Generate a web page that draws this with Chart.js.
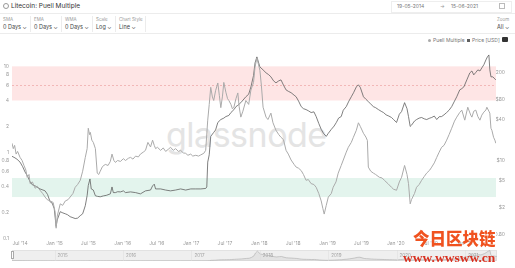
<!DOCTYPE html>
<html>
<head>
<meta charset="utf-8">
<script src="https://cdn.jsdelivr.net/npm/chart.js@4.4.0/dist/chart.umd.min.js"></script>
<style>
  html, body { margin: 0; padding: 0; background: #fff; }
  body { width: 515px; height: 268px; position: relative; overflow: hidden; font-family: Inter, "Noto Sans", sans-serif; color: #444; }
  .abs { position: absolute; white-space: nowrap; line-height: 1; }
  .lbl { font-size: 4.5px; color: #9a9a9a; }
  .val { font-size: 5.5px; color: #444; }
  .sep { position: absolute; top: 16px; width: 1px; height: 16px; background: #ececec; }
  .hr { position: absolute; left: 0; width: 515px; height: 1px; background: #ececec; }
  #main { position: absolute; left: 0; top: 44px; }
  #nav { position: absolute; left: 12px; top: 250px; }
  #wm { position: absolute; left: 166px; top: 118px; font-size: 34px; color: #e4e4e4; font-family: Inter, sans-serif; letter-spacing: -0.5px; }
</style>
</head>
<body>
<div id="wm" class="abs">glassnode</div>

<!-- header -->
<div class="abs" style="left:3px;top:3px;width:4px;height:4px;border:1px solid #999;border-radius:50%;"></div>
<div class="abs" style="left:11px;top:3px;font-size:6.5px;color:#333;">Litecoin: Puell Multiple</div>
<div class="abs" style="left:391px;top:1px;width:119px;height:10px;border:1px solid #eee;"></div>
<div class="abs" style="left:397px;top:4px;font-size:5px;color:#777;">19-05-2014</div>
<div class="abs" style="left:440px;top:4px;font-size:5px;color:#999;">→</div>
<div class="abs" style="left:451px;top:4px;font-size:5px;color:#777;">15-06-2021</div>
<div class="abs" style="left:499px;top:3px;width:4px;height:4px;border:1px solid #bbb;"></div>
<div class="hr" style="top:13px;"></div>

<div class="abs lbl" style="left:3px;top:18px;">SMA</div>
<div class="abs val" style="left:3px;top:25px;">0 Days ⌄</div>
<div class="sep" style="left:30px;"></div>
<div class="abs lbl" style="left:34px;top:18px;">EMA</div>
<div class="abs val" style="left:34px;top:25px;">0 Days ⌄</div>
<div class="sep" style="left:61px;"></div>
<div class="abs lbl" style="left:65px;top:18px;">WMA</div>
<div class="abs val" style="left:65px;top:25px;">0 Days ⌄</div>
<div class="sep" style="left:92px;"></div>
<div class="abs lbl" style="left:96px;top:18px;">Scale</div>
<div class="abs val" style="left:96px;top:25px;">Log ⌄</div>
<div class="sep" style="left:115px;"></div>
<div class="abs lbl" style="left:119px;top:18px;">Chart Style</div>
<div class="abs val" style="left:119px;top:25px;">Line ⌄</div>
<div class="sep" style="left:145px;"></div>
<div class="abs lbl" style="left:497px;top:18px;">Zoom</div>
<div class="abs val" style="left:497px;top:25px;">All ⌄</div>
<div class="hr" style="top:33px;"></div>

<!-- legend -->
<div class="abs" style="left:428px;top:39px;width:3px;height:3px;border-radius:50%;background:#aaa;"></div>
<div class="abs" style="left:433px;top:38px;font-size:5px;color:#777;">Puell Multiple</div>
<div class="abs" style="left:467px;top:39px;width:3px;height:3px;background:#5f5f5f;"></div>
<div class="abs" style="left:472px;top:38px;font-size:5px;color:#777;">Price [USD]</div>
<div class="abs" style="left:502px;top:37px;width:6px;height:5px;border-radius:1px;background:#333;"></div>

<canvas id="main" width="515" height="206"></canvas>
<div class="abs" style="left:12px;top:250px;width:485px;height:11px;background:#efefef;border:1px solid #e2e2e2;box-sizing:border-box;"></div>
<canvas id="nav" width="485" height="11"></canvas>
<div class="abs" style="left:11px;top:251px;width:3px;height:8px;background:#fff;border:1px solid #aaa;box-sizing:border-box;"></div>

<div class="abs" style="left:413px;top:230px;font-size:16.5px;font-weight:900;color:#f0521f;font-family:'Noto Sans CJK SC',sans-serif;">今日区块链</div>
<div class="abs" style="left:403px;top:251px;font-size:13.5px;font-weight:bold;color:#d9301f;font-family:'Liberation Serif','DejaVu Serif',serif;">www.wwsww.cn</div>

<script>
// Litecoin Puell Multiple vs price

const xTickDates = ['2014-07-01', '2015-01-01', '2015-07-01', '2016-01-01', '2016-07-01', '2017-01-01', '2017-07-01',
  '2018-01-01', '2018-07-01', '2019-01-01', '2019-07-01', '2020-01-01', '2020-07-01', '2021-01-01'];
const xTickLabels = ["Jul '14", "Jan '15", "Jul '15", "Jan '16", "Jul '16", "Jan '17", "Jul '17",
  "Jan '18", "Jul '18", "Jan '19", "Jul '19", "Jan '20", "Jul '20", "Jan '21"];
const puellTicks = [0.1, 0.2, 0.4, 0.6, 0.8, 1, 2, 4, 6, 8, 10];
const priceTicks = [0.8, 2, 5, 10, 40, 80, 200];
const priceTickLabels = ['$0.80', '$2', '$5', '$10', '$40', '$80', '$200'];
const navYears = ['2015', '2016', '2017', '2018', '2019', '2020', '2021'];

const overheatBand = [4, 10];
const undervaluedBand = [0.3, 0.5];
const dashedLevel = 6;

const puellDates = [
  '2014-05-19', '2014-05-26', '2014-06-02', '2014-06-10', '2014-06-18', '2014-07-01', '2014-07-12', '2014-07-22',
  '2014-08-01', '2014-08-08', '2014-08-18', '2014-08-24', '2014-09-05', '2014-09-20', '2014-10-01', '2014-10-16',
  '2014-10-30', '2014-11-12', '2014-11-23', '2014-12-09', '2014-12-25', '2015-01-05', '2015-01-10', '2015-01-16',
  '2015-02-01', '2015-02-14', '2015-02-28', '2015-03-15', '2015-03-26', '2015-04-10', '2015-04-22', '2015-05-05',
  '2015-05-19', '2015-06-01', '2015-06-15', '2015-06-25', '2015-07-01', '2015-07-08', '2015-07-12', '2015-07-20',
  '2015-07-28', '2015-08-08', '2015-08-18', '2015-08-26', '2015-09-03', '2015-09-15', '2015-09-30', '2015-10-15',
  '2015-10-27', '2015-11-05', '2015-11-15', '2015-11-23', '2015-12-05', '2015-12-20', '2016-01-05', '2016-01-16',
  '2016-02-01', '2016-02-12', '2016-02-25', '2016-03-10', '2016-03-25', '2016-04-05', '2016-04-20', '2016-05-02',
  '2016-05-15', '2016-05-29', '2016-06-09', '2016-06-18', '2016-06-25', '2016-07-05', '2016-07-22', '2016-08-05',
  '2016-08-18', '2016-09-01', '2016-09-13', '2016-09-28', '2016-10-10', '2016-10-25', '2016-11-06', '2016-11-20',
  '2016-12-03', '2016-12-15', '2016-12-30', '2017-01-10', '2017-01-26', '2017-02-10', '2017-02-22', '2017-03-10',
  '2017-03-20', '2017-03-31', '2017-04-08', '2017-04-16', '2017-04-25', '2017-05-02', '2017-05-12', '2017-05-24',
  '2017-06-01', '2017-06-09', '2017-06-18', '2017-06-25', '2017-07-06', '2017-07-15', '2017-07-22', '2017-08-02',
  '2017-08-10', '2017-08-18', '2017-08-29', '2017-09-08', '2017-09-15', '2017-09-24', '2017-10-05', '2017-10-21',
  '2017-11-05', '2017-11-17', '2017-12-01', '2017-12-09', '2017-12-19', '2018-01-04', '2018-01-12', '2018-01-21',
  '2018-02-06', '2018-02-16', '2018-03-04', '2018-03-15', '2018-03-31', '2018-04-15', '2018-04-27', '2018-05-10',
  '2018-05-24', '2018-06-05', '2018-06-20', '2018-07-06', '2018-07-17', '2018-07-30', '2018-08-13', '2018-08-25',
  '2018-09-08', '2018-09-20', '2018-10-05', '2018-10-20', '2018-11-01', '2018-11-15', '2018-11-28', '2018-12-07',
  '2018-12-14', '2018-12-25', '2019-01-05', '2019-01-21', '2019-01-31', '2019-02-15', '2019-02-27', '2019-03-15',
  '2019-03-26', '2019-04-11', '2019-04-22', '2019-05-08', '2019-05-19', '2019-06-04', '2019-06-15', '2019-06-25',
  '2019-07-12', '2019-07-25', '2019-08-02', '2019-08-07', '2019-08-20', '2019-09-03', '2019-09-15', '2019-10-05',
  '2019-10-20', '2019-11-01', '2019-11-20', '2019-12-09', '2019-12-20', '2020-01-05', '2020-01-20', '2020-02-01',
  '2020-02-17', '2020-03-01', '2020-03-09', '2020-03-18', '2020-03-25', '2020-04-10', '2020-04-21', '2020-05-05',
  '2020-05-18', '2020-06-01', '2020-06-14', '2020-07-01', '2020-07-11', '2020-07-25', '2020-08-07', '2020-08-20',
  '2020-09-02', '2020-09-15', '2020-09-29', '2020-10-12', '2020-10-26', '2020-11-10', '2020-11-22', '2020-12-08',
  '2020-12-19', '2021-01-04', '2021-01-20', '2021-02-05', '2021-02-11', '2021-02-21', '2021-03-04', '2021-03-15',
  '2021-03-26', '2021-04-05', '2021-04-16', '2021-04-27', '2021-05-02', '2021-05-13', '2021-05-18', '2021-05-24',
  '2021-05-29', '2021-06-07', '2021-06-14', '2021-06-19'
];
const puellValues = [
  1.27, 1.10, 1.20, 0.95, 1.02, 0.87, 0.80, 0.70,
  0.62, 0.51, 0.55, 0.43, 0.45, 0.38, 0.40, 0.36,
  0.33, 0.30, 0.28, 0.27, 0.26, 0.20, 0.13, 0.18,
  0.25, 0.24, 0.27, 0.28, 0.30, 0.33, 0.39, 0.42,
  0.47, 0.60, 0.87, 1.10, 1.90, 1.60, 1.70, 1.38,
  1.30, 1.10, 0.57, 0.55, 0.60, 0.68, 0.72, 0.70,
  0.78, 0.95, 0.80, 0.76, 0.80, 0.78, 0.84, 0.80,
  0.85, 0.87, 0.83, 0.90, 0.88, 0.95, 1.00, 1.05,
  1.30, 1.15, 1.38, 1.20, 1.10, 1.14, 1.05, 1.12,
  1.02, 1.08, 1.14, 1.05, 1.10, 1.02, 1.05, 0.98,
  0.97, 0.92, 0.95, 0.90, 0.92, 0.90, 0.93, 0.97,
  1.05, 2.36, 3.60, 5.70, 4.40, 4.00, 5.20, 6.40,
  4.60, 3.30, 4.50, 6.50, 5.00, 4.20, 4.00, 3.60,
  3.20, 3.34, 4.20, 4.90, 3.40, 2.56, 3.00, 4.00,
  3.60, 5.30, 6.50, 9.80, 12.5, 9.00, 6.00, 3.34,
  2.56, 2.40, 2.85, 2.20, 1.80, 1.60, 1.49, 1.40,
  1.05, 0.95, 0.81, 0.72, 0.67, 0.65, 0.61, 0.55,
  0.47, 0.48, 0.43, 0.42, 0.39, 0.33, 0.27, 0.22,
  0.19, 0.24, 0.30, 0.33, 0.39, 0.45, 0.57, 0.70,
  0.81, 1.00, 1.14, 1.30, 1.49, 1.80, 2.20, 2.00,
  1.66, 1.50, 1.37, 0.67, 0.60, 0.57, 0.55, 0.51,
  0.50, 0.47, 0.43, 0.39, 0.37, 0.36, 0.45, 0.51,
  0.70, 0.55, 0.43, 0.25, 0.28, 0.33, 0.39, 0.42,
  0.47, 0.52, 0.57, 0.62, 0.67, 0.75, 0.87, 1.00,
  1.14, 1.20, 1.38, 1.60, 1.90, 2.30, 2.56, 2.90,
  3.09, 2.36, 3.34, 2.70, 2.56, 3.00, 3.09, 2.60,
  2.36, 2.70, 2.93, 3.10, 3.34, 3.00, 2.85, 1.90,
  1.80, 1.49, 1.38, 1.27
];

const priceDates = [
  '2014-05-19', '2014-06-04', '2014-06-15', '2014-07-01', '2014-07-15', '2014-07-28', '2014-08-10', '2014-08-24',
  '2014-09-05', '2014-09-20', '2014-10-05', '2014-10-16', '2014-11-01', '2014-11-12', '2014-11-25', '2014-12-09',
  '2014-12-20', '2014-12-31', '2015-01-10', '2015-01-16', '2015-02-01', '2015-02-15', '2015-02-28', '2015-03-12',
  '2015-03-26', '2015-04-10', '2015-04-22', '2015-05-05', '2015-05-19', '2015-06-01', '2015-06-15', '2015-06-25',
  '2015-07-01', '2015-07-10', '2015-07-17', '2015-07-28', '2015-08-08', '2015-08-20', '2015-09-03', '2015-09-20',
  '2015-10-05', '2015-10-27', '2015-11-05', '2015-11-12', '2015-11-23', '2015-12-05', '2015-12-20', '2016-01-05',
  '2016-01-16', '2016-02-12', '2016-03-10', '2016-04-05', '2016-05-02', '2016-05-29', '2016-06-09', '2016-06-18',
  '2016-06-25', '2016-07-22', '2016-08-18', '2016-09-13', '2016-10-10', '2016-11-06', '2016-12-03', '2016-12-30',
  '2017-01-26', '2017-02-22', '2017-03-20', '2017-03-26', '2017-03-31', '2017-04-08', '2017-04-16', '2017-05-02',
  '2017-05-12', '2017-05-24', '2017-06-09', '2017-06-25', '2017-07-06', '2017-07-22', '2017-08-02', '2017-08-18',
  '2017-08-29', '2017-09-08', '2017-09-24', '2017-10-21', '2017-11-05', '2017-11-17', '2017-12-01', '2017-12-09',
  '2017-12-19', '2018-01-04', '2018-01-21', '2018-02-06', '2018-02-20', '2018-03-04', '2018-03-18', '2018-03-31',
  '2018-04-15', '2018-04-27', '2018-05-10', '2018-05-24', '2018-06-05', '2018-06-20', '2018-07-06', '2018-07-17',
  '2018-07-30', '2018-08-13', '2018-08-25', '2018-09-08', '2018-09-20', '2018-10-05', '2018-10-20', '2018-11-01',
  '2018-11-15', '2018-11-28', '2018-12-10', '2018-12-25', '2019-01-05', '2019-01-21', '2019-02-05', '2019-02-17',
  '2019-03-01', '2019-03-15', '2019-03-26', '2019-04-11', '2019-04-25', '2019-05-08', '2019-05-20', '2019-06-04',
  '2019-06-15', '2019-06-25', '2019-07-12', '2019-07-25', '2019-08-07', '2019-08-20', '2019-09-03', '2019-09-15',
  '2019-09-30', '2019-10-15', '2019-10-27', '2019-11-10', '2019-11-25', '2019-12-09', '2019-12-20', '2020-01-05',
  '2020-01-20', '2020-02-01', '2020-02-17', '2020-03-01', '2020-03-09', '2020-03-18', '2020-03-25', '2020-04-10',
  '2020-04-21', '2020-05-05', '2020-05-18', '2020-06-01', '2020-06-14', '2020-07-01', '2020-07-11', '2020-07-25',
  '2020-08-07', '2020-08-20', '2020-09-02', '2020-09-15', '2020-09-29', '2020-10-12', '2020-10-26', '2020-11-10',
  '2020-11-22', '2020-12-08', '2020-12-19', '2020-12-30', '2021-01-15', '2021-01-31', '2021-02-11', '2021-02-21',
  '2021-03-04', '2021-03-15', '2021-03-26', '2021-04-05', '2021-04-16', '2021-04-27', '2021-05-05', '2021-05-13',
  '2021-05-18', '2021-05-24', '2021-06-03', '2021-06-14', '2021-06-19'
];
const priceValues = [
  11.4, 10.8, 10.3, 9.35, 8.0, 6.66, 5.8, 4.75,
  4.3, 4.15, 3.9, 3.74, 3.6, 3.5, 3.1, 2.41,
  2.3, 1.9, 1.04, 1.3, 1.72, 1.65, 1.6, 1.55,
  1.45, 1.4, 1.36, 1.38, 1.5, 1.6, 2.11, 3.0,
  4.2, 5.26, 3.74, 3.6, 2.96, 2.9, 2.86, 2.95,
  3.0, 3.16, 4.0, 3.3, 3.3, 3.4, 3.38, 3.5,
  3.3, 3.38, 3.3, 3.16, 3.5, 3.6, 4.15, 4.4,
  3.74, 3.74, 3.6, 3.5, 3.6, 3.74, 3.6, 3.74,
  3.74, 3.74, 3.8, 4.0, 9.35, 12, 22.5, 25.8,
  28, 36.2, 40, 42, 44.3, 46, 50.8, 56,
  62.2, 65, 71.2, 87.1, 95, 122, 180, 276,
  340, 241, 218, 197, 185, 172, 150, 140,
  150, 155, 130, 110, 105, 100, 92, 87,
  75, 62.2, 58, 56.2, 54, 50.8, 52, 44.3,
  35, 28.6, 25, 22.5, 25, 28.6, 32, 36.2,
  42, 44.3, 55, 62.2, 75, 87.1, 100, 122,
  131, 120, 87.1, 80, 73.7, 68, 62.2, 60,
  56.2, 53, 50.8, 47, 45, 42.9, 40, 36.2,
  48, 52.6, 71.2, 58, 44.3, 31.6, 33, 38,
  40, 42, 42.9, 41, 40, 42, 42.9, 45,
  40, 44, 44.3, 47, 50.8, 55, 62.2, 75,
  87.1, 110, 115, 122, 155, 197, 210, 184,
  200, 218, 210, 233, 260, 306, 340, 363,
  218, 172, 172, 160, 155
];

const ts = (d) => Date.parse(d + 'T00:00:00Z');
const xMin = ts('2014-05-19');
const xMax = ts('2021-06-20');

const puellPoints = puellDates.map((d, i) => ({ x: ts(d), y: puellValues[i] }));
const pricePoints = priceDates.map((d, i) => ({ x: ts(d), y: priceValues[i] }));

const tickFont = { family: 'Inter, sans-serif', size: 5 };
const noGrid = { display: false, drawTicks: false };

// red / green zones and the dashed level, painted under the lines
const zonesPlugin = {
  id: 'zones',
  beforeDatasetsDraw(chart) {
    const { ctx, chartArea: a, scales } = chart;
    const y = scales.y;
    ctx.save();
    let top = y.getPixelForValue(overheatBand[1]);
    let bot = y.getPixelForValue(overheatBand[0]);
    ctx.fillStyle = 'rgba(245, 80, 80, 0.15)';
    ctx.fillRect(a.left, top, a.right - a.left, bot - top);
    top = y.getPixelForValue(undervaluedBand[1]);
    bot = y.getPixelForValue(undervaluedBand[0]);
    ctx.fillStyle = 'rgba(60, 180, 130, 0.14)';
    ctx.fillRect(a.left, top, a.right - a.left, bot - top);
    const dy = Math.round(y.getPixelForValue(dashedLevel)) + 0.5;
    ctx.strokeStyle = 'rgba(220, 90, 90, 0.55)';
    ctx.lineWidth = 0.6;
    ctx.setLineDash([2, 2]);
    ctx.beginPath();
    ctx.moveTo(a.left, dy);
    ctx.lineTo(a.right, dy);
    ctx.stroke();
    ctx.restore();
  }
};

new Chart(document.getElementById('main'), {
  type: 'line',
  data: {
    datasets: [
      {
        label: 'Puell Multiple',
        data: puellPoints,
        yAxisID: 'y',
        borderColor: '#aaaaaa',
        borderWidth: 1,
        pointRadius: 0,
        tension: 0
      },
      {
        label: 'Price [USD]',
        data: pricePoints,
        yAxisID: 'price',
        borderColor: '#5f5f5f',
        borderWidth: 0.8,
        pointRadius: 0,
        tension: 0
      }
    ]
  },
  options: {
    responsive: false,
    animation: false,
    devicePixelRatio: 1,
    layout: { padding: { top: 6, right: 10, left: 0, bottom: 0 } },
    plugins: { legend: { display: false }, tooltip: { enabled: false } },
    scales: {
      x: {
        type: 'linear',
        min: xMin,
        max: xMax,
        grid: noGrid,
        border: { display: false },
        afterBuildTicks: (s) => { s.ticks = xTickDates.map((d) => ({ value: ts(d) })); },
        afterFit: (s) => { s.height = 12; },
        ticks: {
          autoSkip: false,
          maxRotation: 0,
          padding: 2,
          color: '#9a9a9a',
          font: tickFont,
          callback: (v, i) => xTickLabels[i]
        }
      },
      y: {
        type: 'logarithmic',
        position: 'left',
        min: 0.1,
        max: 15.5,
        grid: noGrid,
        border: { display: false },
        afterBuildTicks: (s) => { s.ticks = puellTicks.map((v) => ({ value: v })); },
        afterFit: (s) => { s.width = 12; },
        ticks: {
          autoSkip: false,
          padding: 3,
          color: '#9a9a9a',
          font: tickFont,
          callback: (v) => String(v)
        }
      },
      price: {
        type: 'logarithmic',
        position: 'right',
        min: 0.74,
        max: 430,
        grid: noGrid,
        border: { display: false },
        afterBuildTicks: (s) => { s.ticks = priceTicks.map((v) => ({ value: v })); },
        afterFit: (s) => { s.width = 9; },
        ticks: {
          autoSkip: false,
          padding: 1,
          crossAlign: 'far',
          color: '#9a9a9a',
          font: tickFont,
          callback: (v, i) => priceTickLabels[i]
        }
      }
    }
  },
  plugins: [zonesPlugin]
});

// navigator strip under the chart
const yearLabelsPlugin = {
  id: 'yearLabels',
  afterDraw(chart) {
    const { ctx, scales: { x }, chartArea: a } = chart;
    ctx.save();
    ctx.font = '4.5px Inter, sans-serif';
    ctx.fillStyle = '#a0a0a0';
    ctx.strokeStyle = '#dcdcdc';
    ctx.lineWidth = 0.5;
    ctx.textBaseline = 'middle';
    navYears.forEach((yr) => {
      const px = x.getPixelForValue(ts(yr + '-01-01'));
      ctx.beginPath();
      ctx.moveTo(Math.round(px) + 0.5, a.top);
      ctx.lineTo(Math.round(px) + 0.5, a.bottom);
      ctx.stroke();
      ctx.fillText(yr, px + 3, (a.top + a.bottom) / 2 + 0.5);
    });
    ctx.restore();
  }
};

new Chart(document.getElementById('nav'), {
  type: 'line',
  data: {
    datasets: [{
      data: pricePoints,
      borderColor: '#b5b5b5',
      borderWidth: 0.7,
      backgroundColor: 'rgba(190, 190, 190, 0.25)',
      fill: 'origin',
      pointRadius: 0
    }]
  },
  options: {
    responsive: false,
    animation: false,
    devicePixelRatio: 1,
    layout: { padding: 0 },
    plugins: { legend: { display: false }, tooltip: { enabled: false } },
    scales: {
      x: { type: 'linear', min: xMin, max: xMax, display: false },
      y: { type: 'linear', min: 0, max: 380, display: false }
    }
  },
  plugins: [yearLabelsPlugin]
});
</script>
</body>
</html>
